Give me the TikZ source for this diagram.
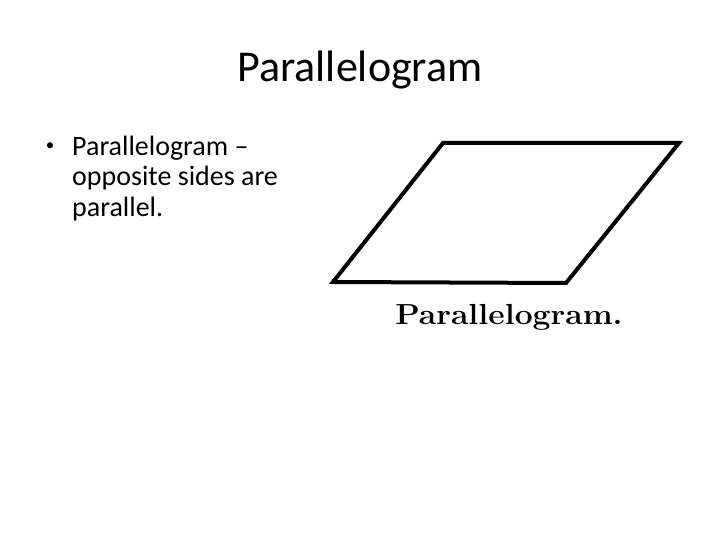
\documentclass[tikz,border=0pt]{standalone}
\usepackage{fontspec}
\setmainfont{Carlito}
\newfontfamily\labelfont{Latin Modern Roman}
\begin{document}
\begin{tikzpicture}[x=1pt,y=-1pt,
  slidetext/.style={inner sep=0pt, anchor=base west, font=\fontsize{28}{30}\selectfont, text=black},
  figlabel/.style={inner sep=0pt, anchor=base, font=\labelfont\bfseries\fontsize{29}{30}\selectfont},
  shapeline/.style={draw=black, line width=4pt, line join=miter}]
\useasboundingbox[fill=white] (0,0) rectangle (720,540);
\node[inner sep=0pt, anchor=base, font=\fontsize{44}{50}\selectfont] (title) at (360,82) {Parallelogram};
\node[inner sep=0pt, anchor=base, font=\fontsize{17}{20}\selectfont] (bullet) at (50,151) {\textbullet};
\node[slidetext] (l1) at (72,156) {Parallelogram –};
\node[slidetext] (l2) at (72,186) {opposite sides are};
\node[slidetext] (l3) at (72,216) {parallel.};
\coordinate (tl) at (443,143);
\coordinate (tr) at (679,143);
\coordinate (br) at (566,283);
\coordinate (bl) at (333,282);
\draw[shapeline] (tl) -- (tr) -- (br) -- (bl) -- cycle;
\node[figlabel] (lab) at (509,324) {\scalebox{1.1}[1]{Parallelogram.}};
\end{tikzpicture}
\end{document}
